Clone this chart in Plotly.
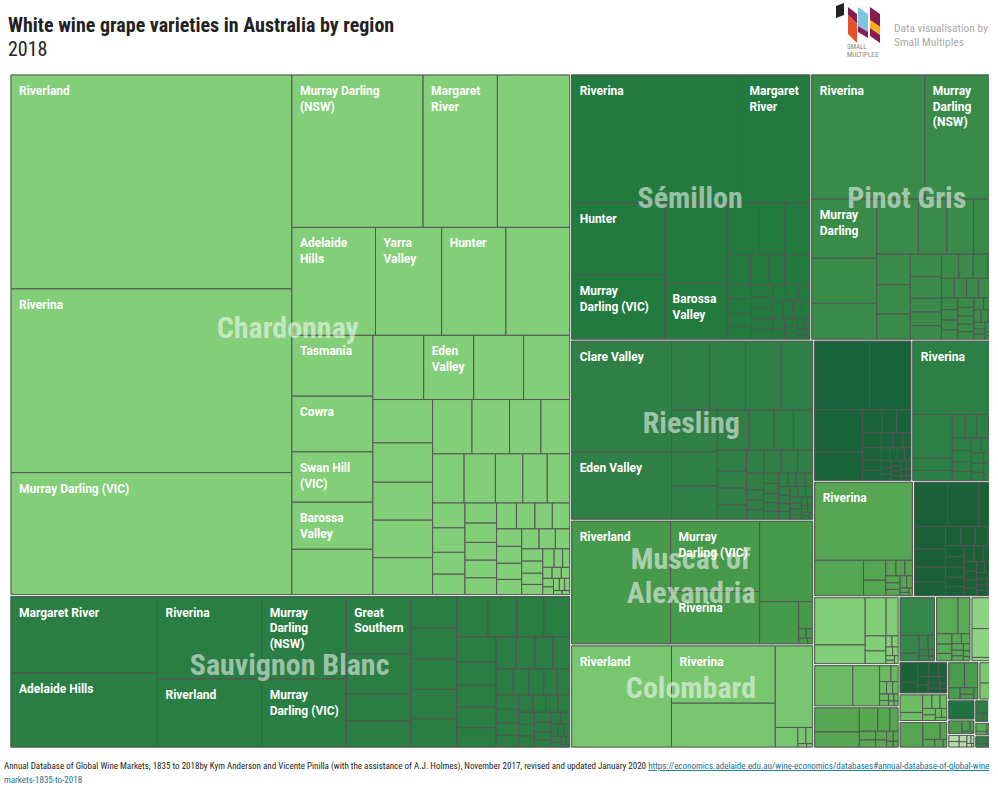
import plotly.graph_objects as go

# tile sizes, biggest first
chardonnay_values = [58900, 50600, 33600, 19600, 11100, 10800, 8850, 7000, 6800, 6750, 4830, 4430, 3990, 3740, 3600,
                     3200, 3150, 3140, 2900, 2540, 2300, 2220, 2200, 2160, 2100, 2000, 1670, 1530, 1520, 1510, 1320, 1180, 1080,
                     790, 778, 694, 650, 620, 598, 549, 545, 520, 505, 468, 442, 440, 432, 417, 400, 375,
                     340, 320, 280, 252, 250, 231, 210, 205, 154, 127, 101, 100, 90, 90, 81, 70, 63, 60, 35, 30]
chardonnay_labels = ["Riverland", "Riverina", "Murray Darling (VIC)", "Murray Darling<br>(NSW)", "Margaret<br>River", "",
                     "Adelaide<br>Hills", "Yarra<br>Valley", "Hunter", "", "Tasmania", "Cowra", "Swan Hill<br>(VIC)",
                     "Barossa<br>Valley", "", "", "Eden<br>Valley"]

sauvignon_values = [11050, 10750, 8500, 7000, 6900, 5700, 3650, 2560, 1720, 1680, 1430, 1400, 1380, 1330, 1280,
                    1240, 1150, 1070, 1020, 1000, 900, 850, 800, 750, 640, 600, 560, 540, 440, 410, 390, 340, 330,
                    320, 300, 280, 260, 240, 220, 210, 200, 190, 180, 170, 160, 150, 130, 120, 110, 100, 90, 80, 70, 60, 50, 40, 30, 20]
sauvignon_labels = ["Margaret River", "Adelaide Hills", "Riverina", "Riverland", "Murray<br>Darling<br>(NSW)",
                    "Murray<br>Darling (VIC)", "Great<br>Southern"]

semillon_values = [21500, 8650, 6600, 5900, 5050, 3500, 1630, 1330, 1280, 650, 530, 450, 370, 350, 340, 330, 310, 290, 270, 240,
                   230, 220, 210, 200, 200, 190, 170, 160, 150, 140, 130, 110, 100, 90, 80, 70, 60, 50, 40, 30]
semillon_labels = ["Riverina", "Margaret<br>River", "Hunter", "Murray<br>Darling (VIC)", "", "Barossa<br>Valley"]

pinot_values = [13900, 9250, 3800, 2900, 2300, 2270, 1550, 1450, 1440, 1020, 970, 840, 700, 670, 420, 420, 420, 420,
                345, 345, 300, 250, 240, 230, 220, 200, 190, 170, 160, 150, 150, 140, 130, 120, 120, 110, 100, 90, 90, 85,
                80, 75, 70, 60, 55, 50, 45, 40, 35, 30, 25, 20]
pinot_labels = ["Riverina", "Murray<br>Darling<br>(NSW)", "Murray<br>Darling"]

riesling_values = [11000, 6650, 2600, 2450, 2440, 2150, 1900, 1560, 1500, 1250, 1000, 780, 760, 610, 490, 485, 414, 400, 390, 385, 345,
                   280, 168, 167, 160, 154, 150, 140, 130, 120, 120, 110, 110, 105, 100, 95, 90, 85, 80, 80, 75, 70, 65, 60, 55, 50, 45, 40, 35, 30, 25, 20]
riesling_labels = ["Clare Valley", "Eden Valley"]

muscat_values = [12100, 6250, 4650, 4250, 1650, 380, 70, 60, 50, 30]
muscat_labels = ["Riverland", "Murray<br>Darling (VIC)", "Riverina"]

colombard_values = [10100, 5950, 4550, 3050, 440, 130, 110, 30, 20]
colombard_labels = ["Riverland", "Riverina"]

block_a_values = [3800, 2850, 2050, 1350, 450, 340, 330, 280, 240, 200, 190, 170, 160, 120, 105, 100, 90, 80, 70, 60, 60, 55, 50, 50, 45, 40, 40, 35, 30, 25, 20]
block_b_values = [6450, 1750, 480, 390, 300, 290, 290, 260, 240, 210, 190, 170, 150, 150, 130, 130, 115, 100, 90, 80, 70, 60, 50, 40, 30, 25]
block_b_labels = ["Riverina"]
block_c_values = [7700, 1750, 450, 350, 160, 140, 120, 100, 95, 90, 80, 70, 40, 30, 25]
block_c_labels = ["Riverina"]
block_d_values = [1500, 1400, 950, 700, 580, 460, 440, 300, 270, 250, 230, 210, 200, 190, 180, 170, 160, 150, 140, 130, 120, 110, 100, 95, 90, 85, 80, 75, 70, 65, 60, 55, 50, 45, 40, 35, 30, 25]
block_e_values = [2450, 970, 820, 470, 320, 270, 70, 70, 60, 50, 40, 30, 30]
block_f_values = [1600, 1130, 190, 120, 90, 80, 70, 60, 50, 40, 30, 30, 20]
block_g_values = [1130, 700, 450, 300, 200, 150, 120, 100, 80, 70, 50, 40, 30]
block_h_values = [1380, 360, 150, 140, 100, 60, 50, 40, 30]
block_i_values = [820, 460, 170, 150, 120, 100, 90, 80, 70, 60, 50, 40, 30]
block_j_values = [930, 870, 100]
block_k_values = [370, 200, 170, 140, 120, 100, 90, 80, 70, 60, 50, 40, 30]
block_l_values = [430, 370, 140, 100, 70, 50]
block_m_values = [460, 360]
block_n_values = [430, 200, 140, 120, 100, 90, 80, 60, 50, 40]
block_o_values = [610, 320, 120, 100, 70, 30]
block_p_values = [390, 140]
block_q_values = [200, 100, 50, 30]
block_r_values = [80, 70, 60, 50, 40, 30, 20, 10]
block_s_values = [180, 70, 50]
block_t_values = [150, 70, 50]
block_u_values = [120, 50, 30]
block_v_values = [100, 50, 30]
block_w_values = [90, 40, 20]
block_x_values = [70, 30, 20]

varieties = ["Chardonnay", "Sauvignon Blanc", "Sémillon", "Pinot Gris", "Riesling", "Muscat of Alexandria", "Colombard",
             "Verdelho", "Viognier", "Gewürztraminer", "Chenin Blanc", "Trebbiano", "Sultana", "Muscadelle", "Savagnin",
             "Pedro Ximenez", "Vermentino", "Marsanne", "Fiano", "Arneis", "Roussanne", "Crouchen", "Doradillo",
             "Palomino", "Taminga", "Petit Manseng", "Tarrango", "Grüner Veltliner", "Albariño", "Garganega", "Other"]
variety_values = [chardonnay_values, sauvignon_values, semillon_values, pinot_values, riesling_values, muscat_values,
                  colombard_values, block_a_values, block_b_values, block_c_values, block_d_values, block_e_values,
                  block_f_values, block_g_values, block_h_values, block_i_values, block_j_values, block_k_values,
                  block_l_values, block_m_values, block_n_values, block_o_values, block_p_values, block_q_values,
                  block_r_values, block_s_values, block_t_values, block_u_values, block_v_values, block_w_values, block_x_values]
variety_labels = {0: chardonnay_labels, 1: sauvignon_labels, 2: semillon_labels, 3: pinot_labels, 4: riesling_labels,
                  5: muscat_labels, 6: colombard_labels, 8: block_b_labels, 9: block_c_labels}
variety_colors = ["#83ce78", "#2a7d43", "#237a3f", "#3a8b4a", "#307f46", "#47994c", "#78c670",
                  "#19643a", "#2b8046", "#55a552", "#1a6138", "#83ce78", "#6cbb64", "#57a753", "#35864a", "#5aa957",
                  "#8fd284", "#1b6239", "#4a9b4d", "#7ac870", "#6ebd65", "#55a552", "#1f7340", "#4a9b4d", "#b3dca8",
                  "#2e7f46", "#3b8c4b", "#5aa957", "#2e7f46", "#1f7340", "#8fd284"]

W, H = 1002, 788

ids, labels, parents, values, texts, colors, widths, line_colors = [], [], [], [], [], [], [], []
for i, name in enumerate(varieties):
    ids.append(name)
    labels.append(name)
    parents.append("")
    values.append(0)
    texts.append("")
    colors.append(variety_colors[i])
    line_colors.append("#ffffff")
    widths.append(1)
    names = variety_labels.get(i, [])
    for j, v in enumerate(variety_values[i]):
        ids.append(name + "-" + str(j))
        labels.append(name + " " + str(j))
        parents.append(name)
        values.append(v)
        t = names[j] if j < len(names) else ""
        texts.append("<b>" + t + "</b>" if t else "")
        colors.append(variety_colors[i])
        line_colors.append("#555555")
        widths.append(1)

fig = go.Figure(go.Treemap(
    ids=ids, labels=labels, parents=parents, values=values, text=texts,
    textinfo="text", textposition="top left", hoverinfo="skip",
    textfont=dict(family="Roboto", size=12, color="white"),
    marker=dict(colors=colors, line=dict(color=line_colors, width=widths), pad=dict(t=1, l=1, r=1, b=1)),
    tiling=dict(squarifyratio=1.618, pad=0),
    pathbar=dict(visible=False),
    root=dict(color="white"),
    domain=dict(x=[9 / W, 1], y=[1 - 749 / H, 1 - 73 / H]),
))


def px(x):
    return x / W


def py(y):
    return 1 - y / H


annotations = []
NARROW = "Roboto"


def add_text(x, y, text, size, color, family=NARROW, anchor="left"):
    annotations.append(dict(x=px(x), y=py(y), xref="paper", yref="paper", text=text, showarrow=False,
                            xanchor=anchor, yanchor="middle", align=anchor,
                            font=dict(family=family, size=size, color=color)))


add_text(6, 25, "<b>White wine grape varieties in Australia by region</b>", 20, "#222222")
add_text(6, 49, "2018", 20, "#222222")
add_text(892, 28, "Data visualisation by", 11.5, "#aaaaaa")
add_text(892, 42, "Small Multiples", 11.5, "#aaaaaa")
add_text(845, 47, "SMALL", 7, "#888888")
add_text(845, 55, "MULTIPLES", 7, "#888888")

big_labels = ["Chardonnay", "Sauvignon Blanc", "Sémillon", "Pinot Gris", "Riesling", "Muscat of", "Alexandria", "Colombard"]
big_x = [288, 289, 690, 906, 691, 691, 691, 691]
big_y = [327, 664, 197, 197, 422, 558, 592, 687]
for t, x, y in zip(big_labels, big_x, big_y):
    add_text(x, y, "<b>" + t + "</b>", 30, "rgba(255,255,255,0.55)", anchor="center")

footer = ("Annual Database of Global Wine Markets, 1835 to 2018by Kym Anderson and Vicente Pinilla (with the assistance of "
          "A.J. Holmes), November 2017, revised and updated January 2020 "
          "<a href='https://economics.adelaide.edu.au/wine-economics/databases#annual-database-of-global-wine-markets-1835-to-2018'>"
          "<span style='color:#1a6f8f'><u>https://economics.adelaide.edu.au/wine-economics/databases#annual-database-of-global-wine-</u></span></a>")
add_text(2, 766, footer, 9, "#222222")
add_text(2, 780, "<a href='https://economics.adelaide.edu.au/wine-economics/databases'><span style='color:#1a6f8f'><u>markets-1835-to-2018</u></span></a>", 9, "#1a6f8f")


def poly(points, color):
    path = "M " + " L ".join(str(px(a)) + " " + str(py(b)) for a, b in points) + " Z"
    return dict(type="path", path=path, xref="paper", yref="paper", fillcolor=color, line=dict(width=0))


shapes = [
    # logo
    poly([(836, 6), (844, 3), (844, 15), (836, 18)], "#222222"),
    poly([(848, 7), (857, 14), (857, 24), (848, 15)], "#8a1c52"),
    poly([(848, 15), (857, 24), (857, 43), (848, 34)], "#e8502a"),
    poly([(858, 7), (868, 14), (868, 32), (858, 26)], "#7cc4e0"),
    poly([(858, 26), (868, 32), (868, 38), (858, 32)], "#8a1c52"),
    poly([(870, 7), (880, 14), (880, 27), (870, 20)], "#8a1c52"),
    poly([(870, 20), (880, 27), (880, 35), (870, 28)], "#f5b01e"),
    poly([(870, 28), (880, 35), (880, 43), (870, 36)], "#8a1c52"),
]

fig.update_layout(width=W, height=H, margin=dict(l=0, r=0, t=0, b=0), paper_bgcolor="white",
                  annotations=annotations, shapes=shapes)

# page fixes: no body margin, chart cut off at its box like the original, condensed text, label inset
post = """
document.body.style.margin = '0';
document.body.style.overflow = 'hidden';
var gd = document.getElementsByClassName('plotly-graph-div')[0];
gd.style.width = '989px';
gd.style.height = '783px';
gd.style.overflow = 'hidden';
document.querySelectorAll('.annotation-text').forEach(function (t) {
    t.style.fontStretch = '75%';
});
document.querySelectorAll('g.slicetext text').forEach(function (t) {
    var old = t.getAttribute('transform') || '';
    t.setAttribute('transform', 'translate(5,6) ' + old);
});
"""
fig.write_html("out.html", config={"displayModeBar": False}, post_script=post)
